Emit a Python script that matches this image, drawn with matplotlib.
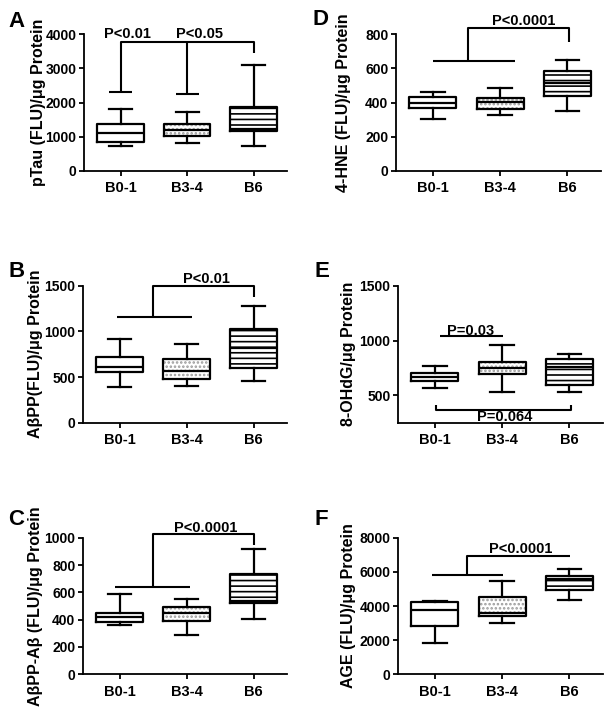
import matplotlib
matplotlib.use('Agg')
import matplotlib.pyplot as plt
import numpy as np

plt.rcParams['font.family'] = ['Liberation Sans', 'DejaVu Sans']
plt.rcParams['font.weight'] = 'bold'
plt.rcParams['hatch.linewidth'] = 1.2

# groups (Braak stage)
groups = ['B0-1', 'B3-4', 'B6']

# box stats per group: whisker low, Q1, median, Q3, whisker high
ptau = [[732, 858, 1103, 1380, 1806],
        [811, 1024, 1210, 1375, 1718],
        [740, 1162, 1220, 1864, 3093]]
abpp = [[390, 551, 613, 715, 916],
        [405, 474, 569, 693, 865],
        [453, 595, 814, 1022, 1274]]
abpp_ab = [[359, 385, 422, 451, 588],
           [288, 390, 446, 495, 551],
           [405, 522, 540, 732, 917]]
hne = [[307, 370, 399, 434, 463],
       [327, 362, 401, 430, 488],
       [350, 440, 516, 586, 652]]
ohdg = [[570, 628, 667, 708, 765],
        [530, 692, 753, 805, 957],
        [527, 598, 759, 827, 881]]
age = [[1851, 2829, 3766, 4217, 4300],
       [2987, 3414, 3600, 4545, 5447],
       [4334, 4937, 5564, 5757, 6149]]

W, H = 612, 718
fig = plt.figure(figsize=(W / 100, H / 100), dpi=100)


def px_axes(l, t, r, b):
    return fig.add_axes([l / W, 1 - b / H, (r - l) / W, (b - t) / H])


def draw_boxes(ax, rows):
    stats = [dict(whislo=r[0], q1=r[1], med=r[2], q3=r[3], whishi=r[4], label=g)
             for g, r in zip(groups, rows)]
    pos = np.arange(len(groups))
    # fills with hatch
    fill = ax.bxp(stats, positions=pos, widths=0.7, patch_artist=True, showfliers=False,
                  boxprops=dict(facecolor='white', linewidth=0),
                  whiskerprops=dict(linewidth=0), capprops=dict(linewidth=0),
                  medianprops=dict(linewidth=0))
    fill['boxes'][1].set_hatch('....')
    fill['boxes'][1].set_edgecolor('#9a9a9a')
    fill['boxes'][2].set_hatch('---')
    fill['boxes'][2].set_edgecolor('black')
    # outlines
    lw = 1.6
    ax.bxp(stats, positions=pos, widths=0.7, capwidths=0.35, showfliers=False,
           boxprops=dict(color='black', linewidth=lw),
           whiskerprops=dict(color='black', linewidth=lw),
           capprops=dict(color='black', linewidth=lw),
           medianprops=dict(color='black', linewidth=lw))


def style_axes(ax, ylim, yticks, label, label_x):
    ax.set_xlim(-0.55, 2.5)
    ax.set_ylim(*ylim)
    ax.set_yticks(yticks)
    ax.set_xticks(range(len(groups)))
    ax.set_xticklabels(groups)
    ax.spines['top'].set_visible(False)
    ax.spines['right'].set_visible(False)
    for s in ['left', 'bottom']:
        ax.spines[s].set_linewidth(1.3)
    ax.tick_params(axis='both', direction='out', length=3.5, width=1.3)
    ax.tick_params(axis='x', labelsize=10.5, pad=4)
    ax.tick_params(axis='y', labelsize=10, pad=2)
    ax.set_ylabel(label, fontsize=11.5, fontweight='bold')
    ax.yaxis.set_label_coords(label_x, 0.5)


def line(ax, xs, ys):
    ax.plot(xs, ys, color='black', lw=1.5, clip_on=False, solid_capstyle='butt', zorder=5)


def ptext(ax, x, y, s):
    ax.text(x, y, s, ha='center', va='baseline', fontsize=10.5, fontweight='bold',
            clip_on=False, zorder=6)


# A: pTau
axA = px_axes(84, 34.3, 287, 171)
draw_boxes(axA, ptau)
style_axes(axA, (0, 4000), [0, 1000, 2000, 3000, 4000], 'pTau (FLU)/\u03bcg Protein', -0.185)
line(axA, [0, 0, 2, 2], [2321, 3785, 3785, 3444])
line(axA, [1, 1], [2253, 3785])
line(axA, [-0.175, 0.175], [2321, 2321])
line(axA, [0.825, 1.175], [2253, 2253])
ptext(axA, 0.1, 3880, 'P<0.01')
ptext(axA, 1.18, 3880, 'P<0.05')

# B: AbetaPP
axB = px_axes(83, 285.7, 287, 422.7)
draw_boxes(axB, abpp)
style_axes(axB, (0, 1500), [0, 500, 1000, 1500], 'A\u03b2PP(FLU)/\u03bcg Protein', -0.196)
line(axB, [-0.04, 1.08], [1157, 1157])
line(axB, [0.5, 0.5, 2, 2], [1157, 1500, 1500, 1380])
ptext(axB, 1.29, 1530, 'P<0.01')

# C: AbetaPP-Abeta
axC = px_axes(83, 537.7, 287, 674.3)
draw_boxes(axC, abpp_ab)
style_axes(axC, (0, 1000), [0, 200, 400, 600, 800, 1000], 'A\u03b2PP-A\u03b2 (FLU)/\u03bcg Protein', -0.196)
line(axC, [-0.07, 1.05], [641, 641])
line(axC, [0.5, 0.5, 2, 2], [641, 1024, 1024, 946])
ptext(axC, 1.28, 1044, 'P<0.0001')

# D: 4-HNE
axD = px_axes(396, 34.3, 601, 171)
draw_boxes(axD, hne)
style_axes(axD, (0, 800), [0, 200, 400, 600, 800], '4-HNE (FLU)/\u03bcg Protein', -0.22)
line(axD, [0, 1.22], [642, 642])
line(axD, [0.52, 0.52, 2.02, 2.02], [642, 837, 837, 755])
ptext(axD, 1.35, 853, 'P<0.0001')

# E: 8-OHdG
axE = px_axes(398, 285.7, 603, 422.7)
draw_boxes(axE, ohdg)
style_axes(axE, (250, 1500), [500, 1000, 1500], '8-OHdG/\u03bcg Protein', -0.205)
line(axE, [0.08, 1.01], [1040, 1040])
ptext(axE, 0.53, 1049, 'P=0.03')
line(axE, [0.01, 0.01, 2.03, 2.03], [408, 369, 369, 408])
ptext(axE, 1.03, 262, 'P=0.064')

# F: AGE
axF = px_axes(398, 537.7, 603, 674.3)
draw_boxes(axF, age)
style_axes(axF, (0, 8000), [0, 2000, 4000, 6000, 8000], 'AGE (FLU)/\u03bcg Protein', -0.205)
line(axF, [-0.04, 1.01], [5815, 5815])
line(axF, [0.48, 0.48, 2.01], [5815, 6928, 6928])
ptext(axF, 1.28, 7121, 'P<0.0001')

# panel letters
for lab, x, y in [('A', 8, 11), ('B', 8, 261), ('C', 8, 509),
                  ('D', 313, 9), ('E', 314, 261), ('F', 314, 509)]:
    fig.text(x / W, 1 - y / H, lab, fontsize=16, fontweight='bold', ha='left', va='top')

fig.savefig('out.png', dpi=100)
